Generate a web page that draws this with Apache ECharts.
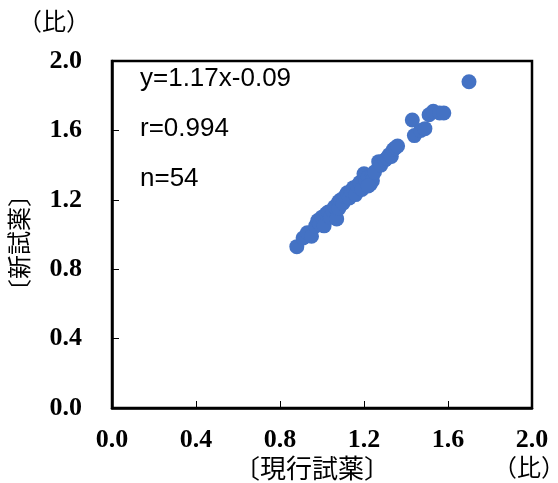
<!DOCTYPE html>
<html>
<head>
<meta charset="utf-8">
<script src="https://cdn.jsdelivr.net/npm/echarts@6/dist/echarts.min.js"></script>
<style>
body { margin: 0; background: #fff; }
#chart { width: 558px; height: 483px; }
</style>
</head>
<body>
<div id="chart"></div>
<script>
// 現行試薬 (x) vs 新試薬 (y), 54 samples
var genko = [0.88, 0.91, 0.93, 0.95, 0.97, 0.98, 0.99, 1.00, 1.01, 1.02,
             1.03, 1.04, 1.05, 1.06, 1.07, 1.08, 1.08, 1.09, 1.10, 1.11,
             1.12, 1.13, 1.14, 1.15, 1.16, 1.17, 1.18, 1.19, 1.20, 1.21,
             1.22, 1.23, 1.24, 1.24, 1.25, 1.27, 1.28, 1.30, 1.31, 1.32,
             1.33, 1.34, 1.35, 1.36, 1.44, 1.43, 1.47, 1.49, 1.51, 1.53,
             1.56, 1.58, 1.70, 1.22];
var shin  = [0.93, 0.98, 1.01, 0.99, 1.05, 1.08, 1.06, 1.10, 1.05, 1.12,
             1.13, 1.10, 1.14, 1.16, 1.09, 1.19, 1.15, 1.20, 1.18, 1.22,
             1.24, 1.21, 1.25, 1.27, 1.23, 1.28, 1.30, 1.26, 1.35, 1.31,
             1.33, 1.29, 1.34, 1.31, 1.36, 1.42, 1.40, 1.43, 1.44, 1.46,
             1.45, 1.49, 1.50, 1.51, 1.57, 1.66, 1.60, 1.61, 1.69, 1.71,
             1.70, 1.70, 1.88, 1.28];
var tickLabels = ['0.0', '0.4', '0.8', '1.2', '1.6', '2.0'];
var notes = ['y=1.17x-0.09', 'r=0.994', 'n=54'];

var points = [];
for (var i = 0; i < genko.length; i++) {
  points.push([genko[i], shin[i]]);
}

var labelStyle = {
  fontFamily: 'Liberation Serif',
  fontWeight: 'bold',
  fontSize: 26,
  color: '#000'
};
function note(txt, top) {
  return { type: 'text', left: 140, top: top,
    style: { text: txt, fontSize: 26, fontFamily: 'Liberation Sans', fill: '#000' } };
}
function cjk(txt, x, y, size, rot) {
  return { type: 'text', x: x, y: y, rotation: rot || 0,
    style: { text: txt, fontSize: size, fontFamily: 'Noto Sans CJK JP', fill: '#000',
             align: 'center', verticalAlign: 'middle' } };
}

var myChart = echarts.init(document.getElementById('chart'));
myChart.setOption({
  animation: false,
  grid: {
    left: 112, right: 26, top: 61, bottom: 75,
    show: true, borderColor: '#000', borderWidth: 2.5
  },
  xAxis: {
    type: 'value', min: 0, max: 2, interval: 0.4,
    splitLine: { show: false },
    axisLine: { lineStyle: { color: '#000', width: 2.5 } },
    axisTick: { inside: true, length: 7, lineStyle: { color: '#000', width: 1 } },
    axisLabel: Object.assign({ margin: 19, formatter: function (v) { return tickLabels[Math.round(v / 0.4)]; } }, labelStyle)
  },
  yAxis: {
    type: 'value', min: 0, max: 2, interval: 0.4,
    splitLine: { show: false },
    axisLine: { lineStyle: { color: '#000', width: 2.5 } },
    axisTick: { inside: true, length: 7, lineStyle: { color: '#000', width: 1 } },
    axisLabel: Object.assign({ margin: 30, formatter: function (v) { return tickLabels[Math.round(v / 0.4)]; } }, labelStyle)
  },
  graphic: [
    note(notes[0], 66),
    note(notes[1], 116),
    note(notes[2], 166),
    cjk('（比）', 54, 21, 24),
    cjk('（比）', 529, 467, 24),
    cjk('〔現行試薬〕', 312, 468, 26),
    cjk('〔新試薬〕', 19, 243, 24, Math.PI / 2)
  ],
  series: [
    {
      type: 'scatter',
      data: points,
      symbolSize: 15,
      itemStyle: { color: '#4472C4', opacity: 1 }
    }
  ]
});
</script>
</body>
</html>
